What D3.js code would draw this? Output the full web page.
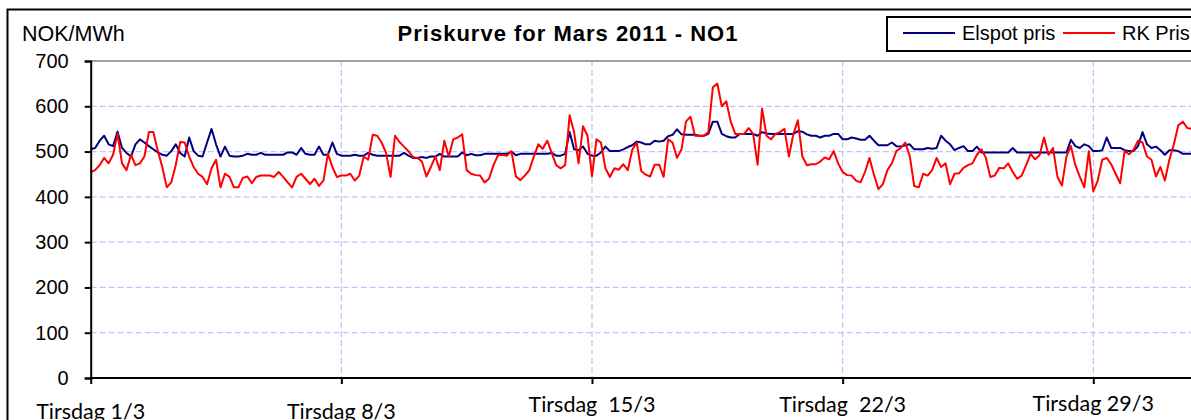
<!DOCTYPE html>
<html>
<head>
<meta charset="utf-8">
<script src="https://cdn.jsdelivr.net/npm/d3@7/dist/d3.min.js"></script>
<style>
  html, body { margin: 0; padding: 0; background: #fff; overflow: hidden; }
  svg { display: block; }
</style>
</head>
<body>
<div id="chart"></div>
<script>
// Priskurve for Mars 2011 - NO1, values read every 3rd hour
const stepHours = 3;

const elspot = [
  505,508,524,535,516,512,544,508,497,489, 516,527,520,512,505,498,493,491,501,516,
  497,489,531,501,491,489,520,550,516,489, 511,491,489,489,491,495,493,493,497,493,
  493,493,493,493,498,498,493,508,495,493, 493,511,493,493,520,495,491,491,491,493,
  491,491,497,493,491,491,491,491,491,491, 497,491,486,486,488,486,489,489,495,489,
  489,489,489,498,492,495,492,492,495,495, 495,495,495,495,500,492,495,495,495,495,
  495,495,495,497,491,491,495,543,505,503, 511,495,491,491,498,511,501,501,501,505,
  510,514,522,520,516,516,524,522,524,534, 537,549,538,537,537,537,535,535,539,566,
  566,539,534,531,531,539,539,539,539,535, 543,540,539,539,539,539,539,539,545,544,
  538,535,535,531,535,535,539,539,527,527, 531,529,526,526,535,524,514,514,514,520,
  512,511,514,516,505,505,505,508,506,508, 535,524,516,503,508,512,501,501,511,498,
  498,498,498,498,498,498,508,498,498,498, 498,498,498,498,498,498,498,498,498,526,
  512,508,516,512,501,501,503,531,508,508, 508,503,501,501,512,543,516,508,511,503,
  493,503,503,501,495,495,495,495
];

const rkPris = [
  455,459,470,486,474,493,539,474,459,493, 470,474,489,543,543,501,466,421,432,470,
  521,520,489,466,451,444,428,463,482,421, 451,444,421,421,442,445,430,444,447,447,
  447,444,455,444,432,421,444,451,440,428, 440,424,436,495,466,444,447,447,451,436,
  447,489,482,537,535,520,497,444,535,521, 511,501,488,486,478,445,466,489,459,524,
  489,527,531,538,459,451,448,447,432,440, 470,492,493,491,501,445,437,447,459,489,
  516,506,524,497,470,463,470,580,543,474, 556,535,445,527,520,463,444,463,460,472,
  459,504,520,457,449,445,471,471,444,527, 520,486,505,566,577,535,535,535,543,642,
  650,600,611,566,539,539,539,552,539,471, 595,535,527,539,543,550,489,539,569,489,
  470,472,472,478,487,483,501,474,455,448, 447,436,432,455,486,449,417,428,459,474,
  501,508,520,490,424,421,451,447,459,486, 466,474,428,451,452,464,470,474,493,505,
  486,444,447,464,463,474,455,440,447,470, 495,483,492,531,493,508,444,425,489,512,
  470,444,421,501,412,436,482,486,472,451, 430,501,494,504,524,520,489,482,445,466,
  436,482,516,558,566,552,550,550
];

const yTicks = [0, 100, 200, 300, 400, 500, 600, 700];
const dayTicks = [0, 7, 14, 21, 28];
const dayLabels = ["Tirsdag 1/3", "Tirsdag 8/3", "Tirsdag  15/3", "Tirsdag  22/3", "Tirsdag 29/3"];
const seriesNames = ["Elspot pris", "RK Pris"];

const W = 1191, H = 420;
const svg = d3.select("#chart").append("svg")
    .attr("width", W)
    .attr("height", H)
    .style("font-family", "'Liberation Sans', Arial, sans-serif");

const x = d3.scaleLinear().domain([0, 744]).range([90.7, 1200.7]);
const y = d3.scaleLinear().domain([0, 700]).range([378, 61]);

// outer chart border (runs off the picture to the right and bottom)
svg.append("rect")
    .attr("x", 7.5).attr("y", 9.5)
    .attr("width", 1400).attr("height", 600)
    .attr("fill", "none").attr("stroke", "#000").attr("stroke-width", 2);

// horizontal grid
svg.append("g")
    .selectAll("line")
    .data(yTicks.filter(d => d > 0 && d < 700))
    .join("line")
    .attr("x1", x(0)).attr("x2", W)
    .attr("y1", d => y(d)).attr("y2", d => y(d))
    .attr("stroke", "#c4c4fa").attr("stroke-width", 1.3)
    .attr("stroke-dasharray", "6,3");

// vertical grid
svg.append("g")
    .selectAll("line")
    .data(dayTicks.slice(1))
    .join("line")
    .attr("x1", d => x(d * 24)).attr("x2", d => x(d * 24))
    .attr("y1", y(700)).attr("y2", y(0))
    .attr("stroke", "#c4c4fa").attr("stroke-width", 1.3)
    .attr("stroke-dasharray", "6,3");

// top edge of plot area
svg.append("line")
    .attr("x1", x(0)).attr("x2", W)
    .attr("y1", y(700)).attr("y2", y(700))
    .attr("stroke", "#808080").attr("stroke-width", 1.5);

// lines
const line = d3.line()
    .x((d, i) => x(i * stepHours))
    .y(d => y(d));

svg.append("path")
    .datum(elspot)
    .attr("d", line)
    .attr("fill", "none")
    .attr("stroke", "#000080")
    .attr("stroke-width", 2)
    .attr("stroke-linejoin", "round");

svg.append("path")
    .datum(rkPris)
    .attr("d", line)
    .attr("fill", "none")
    .attr("stroke", "#ff0000")
    .attr("stroke-width", 2)
    .attr("stroke-linejoin", "round");

// y axis
const yAxis = svg.append("g")
    .attr("transform", `translate(${x(0)},0)`)
    .call(d3.axisLeft(y).tickValues(yTicks).tickSize(6).tickPadding(16).tickFormat(d3.format("d")));
yAxis.select(".domain").attr("stroke", "#000").attr("stroke-width", 2);
yAxis.selectAll(".tick line").attr("stroke", "#000").attr("stroke-width", 2);
yAxis.selectAll(".tick text")
    .attr("fill", "#000")
    .style("font-size", "20px")
    .style("font-family", "'Liberation Sans', Arial, sans-serif");

// x axis
const xAxis = svg.append("g")
    .attr("transform", `translate(0,${y(0)})`)
    .call(d3.axisBottom(x).tickValues(dayTicks.map(d => d * 24)).tickSize(6).tickFormat(""));
xAxis.select(".domain").attr("stroke", "#000").attr("stroke-width", 2).attr("d", `M${x(0)},0H${W + 20}`);
xAxis.selectAll(".tick line").attr("stroke", "#000").attr("stroke-width", 2);

// Excel staggered the category labels a little
const labelBase = [419, 419, 412, 412, 411];
svg.append("g")
    .selectAll("text")
    .data(dayLabels)
    .join("text")
    .attr("x", (d, i) => x(dayTicks[i] * 24))
    .attr("y", (d, i) => labelBase[i])
    .attr("text-anchor", "middle")
    .attr("xml:space", "preserve")
    .style("white-space", "pre")
    .style("font-family", "Lato, 'Open Sans', sans-serif")
    .style("font-size", "21.5px")
    .attr("fill", "#000")
    .text(d => d);

// unit and title
svg.append("text")
    .attr("x", 22).attr("y", 41)
    .style("font-size", "21.5px")
    .text("NOK/MWh");

svg.append("text")
    .attr("x", 568).attr("y", 41)
    .attr("text-anchor", "middle")
    .style("font-size", "22px")
    .style("font-weight", "bold")
    .style("letter-spacing", "1px")
    .text("Priskurve for Mars 2011 - NO1");

// legend
const legend = svg.append("g");
legend.append("rect")
    .attr("x", 887).attr("y", 17)
    .attr("width", 400).attr("height", 34)
    .attr("fill", "#fff").attr("stroke", "#000").attr("stroke-width", 2);

const legendX = [903, 1063];
const legendColors = ["#000080", "#ff0000"];
seriesNames.forEach((name, i) => {
    legend.append("line")
        .attr("x1", legendX[i]).attr("x2", legendX[i] + 52)
        .attr("y1", 33).attr("y2", 33)
        .attr("stroke", legendColors[i]).attr("stroke-width", 2);
    legend.append("text")
        .attr("x", legendX[i] + 59).attr("y", 40)
        .style("font-size", "20px")
        .text(name);
});
</script>
</body>
</html>
